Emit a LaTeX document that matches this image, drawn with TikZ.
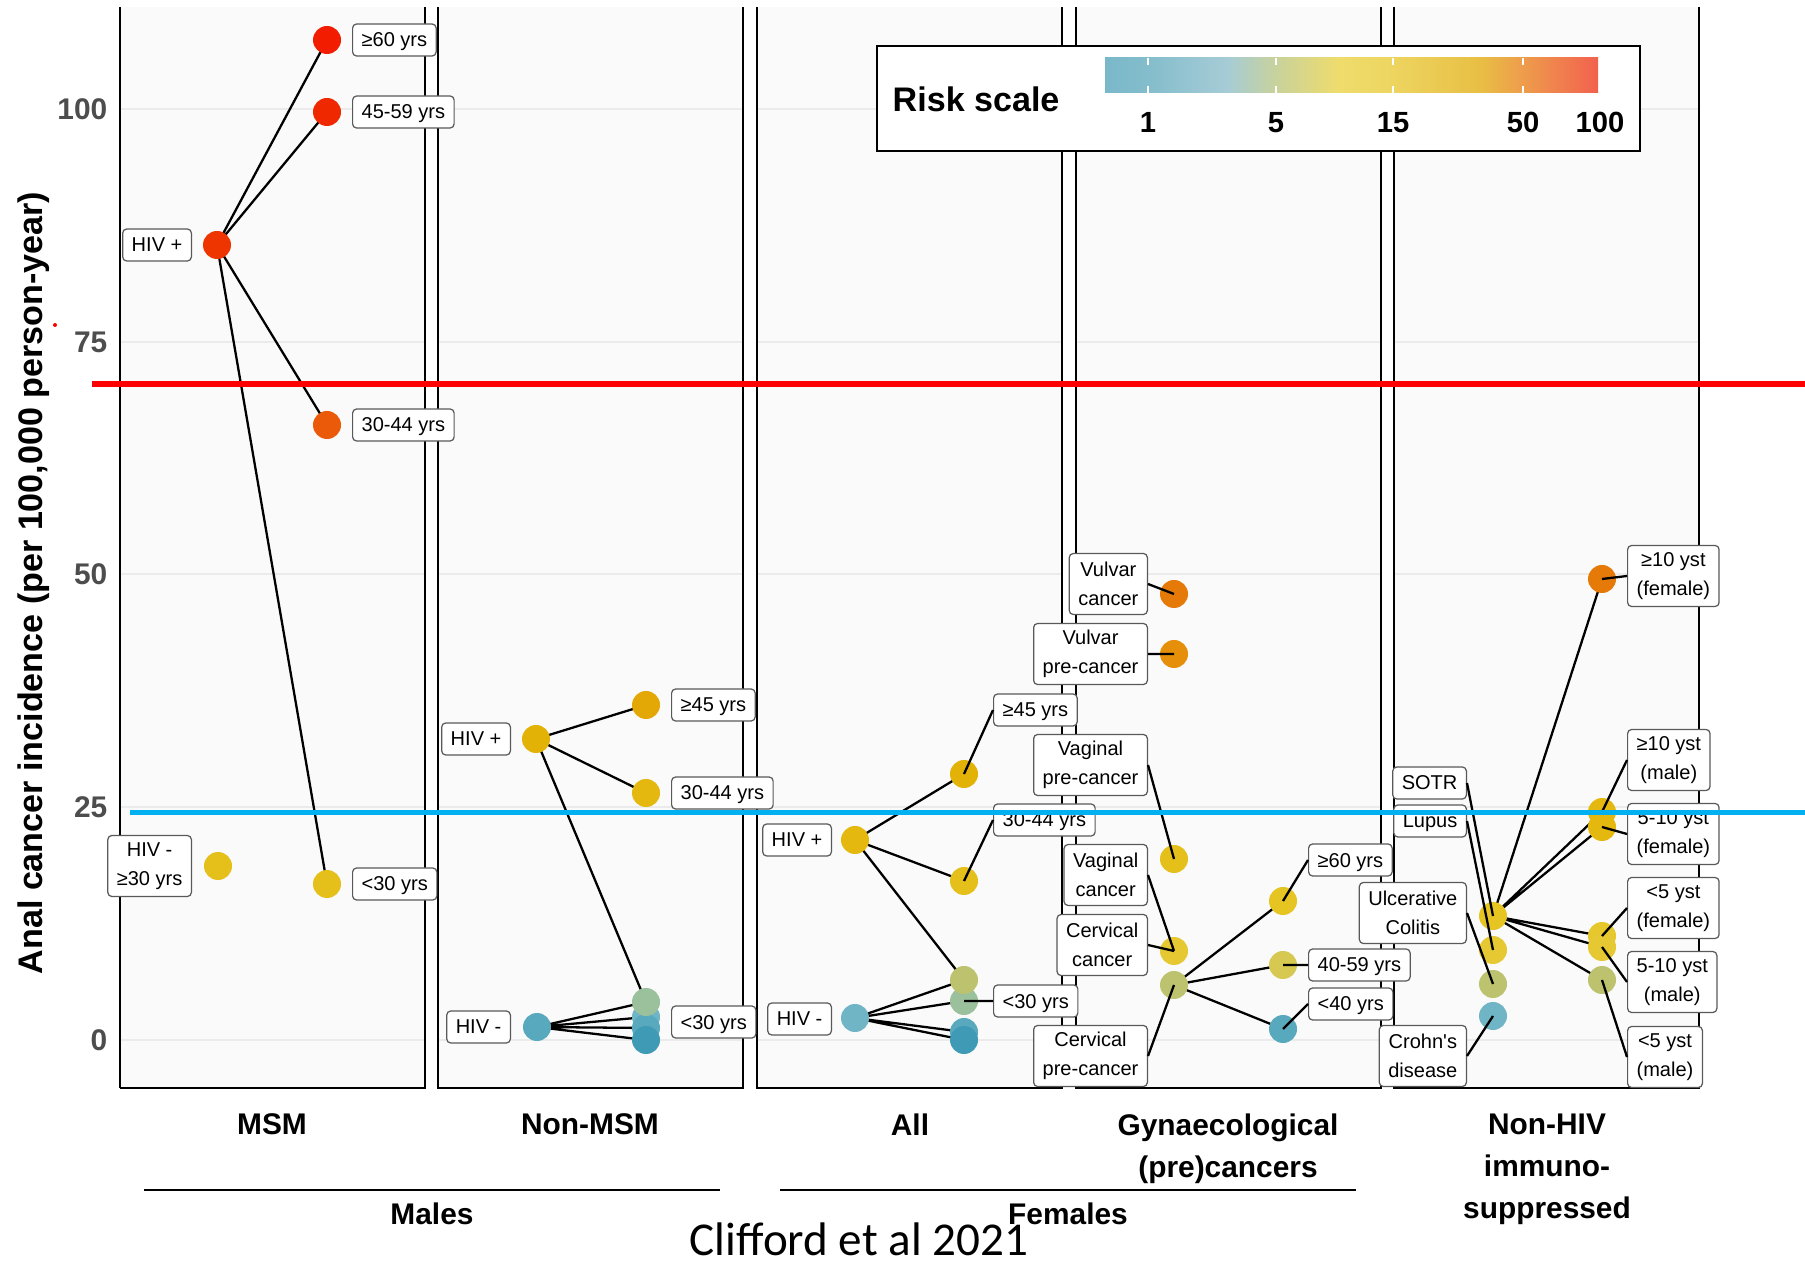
\documentclass[tikz,border=0pt]{standalone}
\usepackage{fontspec}
\setmainfont{Liberation Sans}
\newfontfamily\citefont{Carlito}
\usetikzlibrary{backgrounds}

% plot colours
\definecolor{panelbg}{HTML}{FAFAFA}
\definecolor{gridln}{HTML}{EBEBEB}
\definecolor{ticktxt}{HTML}{4D4D4D}
\definecolor{lineRed}{HTML}{FF0000}
\definecolor{lineBlue}{HTML}{00B0F0}
% risk colours
\definecolor{r107}{HTML}{F21C00}
\definecolor{r100}{HTML}{F02800}
\definecolor{r85}{HTML}{EE3500}
\definecolor{r66}{HTML}{EA5A08}
\definecolor{r49}{HTML}{E57A08}
\definecolor{r41}{HTML}{E58F0A}
\definecolor{r35}{HTML}{E3A806}
\definecolor{r30}{HTML}{E3B206}
\definecolor{r25}{HTML}{E4B80E}
\definecolor{r19}{HTML}{E5BF1A}
\definecolor{r15}{HTML}{E6C422}
\definecolor{r11}{HTML}{E6C72C}
\definecolor{r10}{HTML}{E6C932}
\definecolor{r8}{HTML}{D6C850}
\definecolor{r6}{HTML}{BCC26E}
\definecolor{r4}{HTML}{9BC09C}
\definecolor{r2}{HTML}{70B5C5}
\definecolor{r1}{HTML}{58A9BD}
\definecolor{r0}{HTML}{3F9BB5}
% legend bar
\definecolor{lgA}{HTML}{7AB8C9}
\definecolor{lgB}{HTML}{84BDCC}
\definecolor{lgC}{HTML}{A6CCD6}
\definecolor{lgD}{HTML}{C8D29C}
\definecolor{lgE}{HTML}{EFDC6C}
\definecolor{lgF}{HTML}{EDD560}
\definecolor{lgG}{HTML}{E8BF44}
\definecolor{lgH}{HTML}{EE9C4C}
\definecolor{lgI}{HTML}{F2614E}
\pgfdeclarehorizontalshading{riskbar}{100bp}{color(0bp)=(lgA); color(25bp)=(lgA);
  color(29.4bp)=(lgB); color(37.4bp)=(lgC); color(42.3bp)=(lgD); color(48.8bp)=(lgE);
  color(54.2bp)=(lgF); color(63bp)=(lgG); color(67.4bp)=(lgH); color(75bp)=(lgI); color(100bp)=(lgI)}

\tikzset{
  pnt/.style={circle, inner sep=0pt, minimum size=2.8mm},
  link/.style={line width=0.65pt},
  lblbase/.style={draw=black!65, line width=0.35pt, fill=white, rounded corners=0.4mm,
    inner xsep=0.9mm, font=\fontsize{5.7}{8.4}\selectfont},
  lbl/.style={lblbase, inner ysep=0.65mm, text height=1.65mm, text depth=0.25mm},
  lbltwo/.style={lblbase, align=center, inner ysep=0.6mm, minimum height=6.1mm},
  ticklbl/.style={font=\bfseries\fontsize{8.5}{10}\selectfont, text=ticktxt, inner sep=0pt},
  strip/.style={font=\bfseries\fontsize{8.5}{11.95}\selectfont, align=center, inner sep=0pt},
}

\begin{document}
\begin{tikzpicture}[x=0.1mm, y=-0.1mm]
	\useasboundingbox (0,0) rectangle (1805,1264);

	% panels
	\begin{scope}[on background layer]
		\fill[panelbg] (120,7) rectangle (425,1088);
		\fill[panelbg] (438,7) rectangle (743,1088);
		\fill[panelbg] (757,7) rectangle (1062,1088);
		\fill[panelbg] (1076,7) rectangle (1381,1088);
		\fill[panelbg] (1394,7) rectangle (1699,1088);
		\draw[gridln, line width=0.75pt] (120,109) -- (425,109) (120,342) -- (425,342) (120,574) -- (425,574) (120,807) -- (425,807) (120,1040) -- (425,1040);
		\draw[gridln, line width=0.75pt] (438,109) -- (743,109) (438,342) -- (743,342) (438,574) -- (743,574) (438,807) -- (743,807) (438,1040) -- (743,1040);
		\draw[gridln, line width=0.75pt] (757,109) -- (1062,109) (757,342) -- (1062,342) (757,574) -- (1062,574) (757,807) -- (1062,807) (757,1040) -- (1062,1040);
		\draw[gridln, line width=0.75pt] (1076,109) -- (1381,109) (1076,342) -- (1381,342) (1076,574) -- (1381,574) (1076,807) -- (1381,807) (1076,1040) -- (1381,1040);
		\draw[gridln, line width=0.75pt] (1394,109) -- (1699,109) (1394,342) -- (1699,342) (1394,574) -- (1699,574) (1394,807) -- (1699,807) (1394,1040) -- (1699,1040);
		\draw[line width=0.4pt] (120,7) -- (120,1088);
		\draw[line width=0.65pt] (120,1088) -- (425,1088) -- (425,7);
		\draw[line width=0.65pt] (438,7) -- (438,1088) -- (743,1088) -- (743,7);
		\draw[line width=0.65pt] (757,7) -- (757,1088) -- (1062,1088) -- (1062,7);
		\draw[line width=0.65pt] (1076,7) -- (1076,1088) -- (1381,1088) -- (1381,7);
		\draw[line width=0.65pt] (1394,7) -- (1394,1088) -- (1699,1088) -- (1699,7);
	\end{scope}

	% axis
	\node[ticklbl, anchor=east] (t100) at (108,109) {100};
	\node[ticklbl, anchor=east] (t75) at (108,342) {75};
	\node[ticklbl, anchor=east] (t50) at (108,574) {50};
	\node[ticklbl, anchor=east] (t25) at (108,807) {25};
	\node[ticklbl, anchor=east] (t0) at (108,1040) {0};
	\node[font=\bfseries\fontsize{9.7}{11}\selectfont, rotate=90, anchor=base, inner sep=0pt] (ytitle) at (43,583) {Anal cancer incidence (per 100,000 person-year)};
	\fill[lineRed] (55,325) circle (0.2mm);

	% legend
	\draw[line width=0.35pt, fill=white] (877,46) rectangle (1640,151);
	\shade[shading=riskbar] (1105,58) rectangle (1598,93);
	\draw[white, line width=0.4pt] (1148,58) -- (1148,65) (1148,86) -- (1148,93)
		(1276,58) -- (1276,65) (1276,86) -- (1276,93)
		(1393,58) -- (1393,65) (1393,86) -- (1393,93)
		(1523,58) -- (1523,65) (1523,86) -- (1523,93);
	\node[font=\bfseries\fontsize{9.7}{11}\selectfont, anchor=base west, inner sep=0pt] (rkTitle) at (892,112) {Risk scale};
	\node[font=\bfseries\fontsize{8.3}{10}\selectfont, anchor=base, inner sep=0pt] (rk1) at (1148,133) {1};
	\node[font=\bfseries\fontsize{8.3}{10}\selectfont, anchor=base, inner sep=0pt] (rk5) at (1276,133) {5};
	\node[font=\bfseries\fontsize{8.3}{10}\selectfont, anchor=base, inner sep=0pt] (rk15) at (1393,133) {15};
	\node[font=\bfseries\fontsize{8.3}{10}\selectfont, anchor=base, inner sep=0pt] (rk50) at (1523,133) {50};
	\node[font=\bfseries\fontsize{8.3}{10}\selectfont, anchor=base, inner sep=0pt] (rk100) at (1600,133) {100};

	% MSM
	\node[pnt, fill=r85] (msmHp) at (217,245) {};
	\node[pnt, fill=r107] (msm60) at (327,40) {};
	\node[pnt, fill=r100] (msm45) at (327,112) {};
	\node[pnt, fill=r66] (msm30) at (327,425) {};
	\node[pnt, fill=r19] (msmU30) at (327,884) {};
	\node[pnt, fill=r19] (msmHn) at (218,866) {};
	\node[lbl, anchor=west] (lM60) at (352,40) {≥60 yrs};
	\node[lbl, anchor=west] (lM45) at (352,112) {45-59 yrs};
	\node[lbl, anchor=east] (lMHp) at (192,245) {HIV +};
	\node[lbl, anchor=west] (lM30) at (352,425) {30-44 yrs};
	\node[lbltwo, anchor=east] (lMHn) at (192,866) {HIV -\\≥30 yrs};
	\node[lbl, anchor=west] (lMU30) at (352,884) {<30 yrs};

	% Non-MSM
	\node[pnt, fill=r30] (nonHp) at (536,739) {};
	\node[pnt, fill=r35] (non45) at (646,705) {};
	\node[pnt, fill=r25] (non30) at (646,793) {};
	\node[pnt, fill=r1] (nonHn) at (537,1027) {};
	\node[pnt, fill=r2] (nonU2) at (646,1017) {};
	\node[pnt, fill=r1] (nonU3) at (646,1028) {};
	\node[pnt, fill=r0] (nonU4) at (646,1040) {};
	\node[pnt, fill=r4] (nonU1) at (646,1002) {};
	\node[lbl, anchor=east] (lNHp) at (511,739) {HIV +};
	\node[lbl, anchor=west] (lN45) at (671,705) {≥45 yrs};
	\node[lbl, anchor=west] (lN30) at (671,793) {30-44 yrs};
	\node[lbl, anchor=east] (lNHn) at (511,1027) {HIV -};
	\node[lbl, anchor=west] (lNU30) at (671,1022) {<30 yrs};

	% All
	\node[pnt, fill=r25] (allHp) at (855,840) {};
	\node[pnt, fill=r30] (all45) at (964,774) {};
	\node[pnt, fill=r19] (all30) at (964,881) {};
	\node[pnt, fill=r2] (allHn) at (855,1018) {};
	\node[pnt, fill=r4] (allU2) at (964,1001) {};
	\node[pnt, fill=r6] (allU1) at (964,980) {};
	\node[pnt, fill=r1] (allU3) at (964,1032) {};
	\node[pnt, fill=r0] (allU4) at (964,1040) {};
	\node[lbl, anchor=east] (lAHp) at (832,840) {HIV +};
	\node[lbl, anchor=west] (lA45) at (993,710) {≥45 yrs};
	\node[lbl, anchor=west] (lA30) at (993,820) {30-44 yrs};
	\node[lbl, anchor=west] (lAU30) at (993,1001) {<30 yrs};
	\node[lbl, anchor=east] (lAHn) at (832,1019) {HIV -};
	\draw[link] (all45.center) -- (lA45.west) (all30.center) -- (lA30.west) (allU2.center) -- (lAU30.west);

	% Gynaecological
	\node[pnt, fill=r49] (gVc) at (1174,594) {};
	\node[pnt, fill=r41] (gVp) at (1174,654) {};
	\node[pnt, fill=r19] (gGp) at (1174,859) {};
	\node[pnt, fill=r10] (gCc) at (1174,951) {};
	\node[pnt, fill=r6] (gCp) at (1174,985) {};
	\node[pnt, fill=r15] (g60) at (1283,901) {};
	\node[pnt, fill=r8] (g40) at (1283,965) {};
	\node[pnt, fill=r1] (gU40) at (1283,1029) {};
	\node[lbltwo, anchor=east] (lVc) at (1148,584) {Vulvar\\cancer};
	\node[lbltwo, anchor=east] (lVp) at (1148,654) {Vulvar\\pre-cancer};
	\node[lbltwo, anchor=east] (lGp) at (1148,765) {Vaginal\\pre-cancer};
	\node[lbltwo, anchor=east] (lGc) at (1148,875) {Vaginal\\cancer};
	\node[lbltwo, anchor=east] (lCc) at (1148,945) {Cervical\\cancer};
	\node[lbltwo, anchor=east] (lCp) at (1148,1056) {Cervical\\pre-cancer};
	\node[lbl, anchor=west] (lG60) at (1308,860) {≥60 yrs};
	\node[lbl, anchor=west] (lG40) at (1308,965) {40-59 yrs};
	\node[lbl, anchor=west] (lGU40) at (1308,1004) {<40 yrs};
	\draw[link] (lVc.east) -- (gVc.center) (lVp.east) -- (gVp.center) (lGp.east) -- (gGp.center)
		(lGc.east) -- (gCc.center) (lCc.east) -- (gCc.center) (lCp.east) -- (gCp.center)
		(lG60.west) -- (g60.center) (lG40.west) -- (g40.center) (lGU40.west) -- (gU40.center);

	% Non-HIV immunosuppressed
	\node[pnt, fill=r15] (iSot) at (1493,916) {};
	\node[pnt, fill=r10] (iLup) at (1493,950) {};
	\node[pnt, fill=r6] (iUc) at (1493,984) {};
	\node[pnt, fill=r2] (iCr) at (1493,1016) {};
	\node[pnt, fill=r49] (iF10) at (1602,579) {};
	\node[pnt, fill=r25] (iM10) at (1602,812) {};
	\node[pnt, fill=r25] (iF5) at (1602,827) {};
	\node[pnt, fill=r11] (iFu5) at (1602,936) {};
	\node[pnt, fill=r10] (iM5) at (1602,947) {};
	\node[pnt, fill=r6] (iMu5) at (1602,980) {};
	\node[lbl, anchor=east] (lSot) at (1467,783) {SOTR};
	\node[lbl, anchor=east] (lLup) at (1467,821) {Lupus};
	\node[lbltwo, anchor=east] (lUc) at (1467,913) {Ulcerative\\Colitis};
	\node[lbltwo, anchor=east] (lCr) at (1467,1056) {Crohn\textquotesingle s\\disease};
	\node[lbltwo, anchor=west] (lF10) at (1627,576) {≥10 yst\\(female)};
	\node[lbltwo, anchor=west] (lM10) at (1627,760) {≥10 yst\\(male)};
	\node[lbltwo, anchor=west] (lF5) at (1627,834) {5-10 yst\\(female)};
	\node[lbltwo, anchor=west] (lFu5) at (1627,908) {<5 yst\\(female)};
	\node[lbltwo, anchor=west] (lM5) at (1627,982) {5-10 yst\\(male)};
	\node[lbltwo, anchor=west] (lMu5) at (1627,1057) {<5 yst\\(male)};
	\draw[link] (lSot.east) -- (iSot.center) (lLup.east) -- (iLup.center) (lUc.east) -- (iUc.center) (lCr.east) -- (iCr.center)
		(lF10.west) -- (iF10.center) (lM10.west) -- (iM10.center) (lF5.west) -- (iF5.center)
		(lFu5.west) -- (iFu5.center) (lM5.west) -- (iM5.center) (lMu5.west) -- (iMu5.center);

	% lines between groups
	\begin{scope}[on background layer]
		\draw[link] (msmHp.center) -- (msm60.center) (msmHp.center) -- (msm45.center) (msmHp.center) -- (msm30.center) (msmHp.center) -- (msmU30.center);
		\draw[link] (nonHp.center) -- (non45.center) (nonHp.center) -- (non30.center) (nonHp.center) -- (nonU1.center)
			(nonHn.center) -- (nonU1.center) (nonHn.center) -- (nonU2.center) (nonHn.center) -- (nonU3.center) (nonHn.center) -- (nonU4.center);
		\draw[link] (allHp.center) -- (all45.center) (allHp.center) -- (all30.center) (allHp.center) -- (allU1.center)
			(allHn.center) -- (allU1.center) (allHn.center) -- (allU2.center) (allHn.center) -- (allU3.center) (allHn.center) -- (allU4.center);
		\draw[link] (gCp.center) -- (g60.center) (gCp.center) -- (g40.center) (gCp.center) -- (gU40.center);
		\draw[link] (iSot.center) -- (iF10.center) (iSot.center) -- (iM10.center) (iSot.center) -- (iF5.center)
			(iSot.center) -- (iFu5.center) (iSot.center) -- (iM5.center) (iSot.center) -- (iMu5.center);
	\end{scope}

	% facet labels
	\node[strip, anchor=north] (sMsm) at (272,1113) {MSM};
	\node[strip, anchor=north] (sNon) at (590,1113) {Non-MSM};
	\node[strip, anchor=north] (sAll) at (910,1113) {All};
	\node[strip, anchor=north] (sGyn) at (1228,1113) {Gynaecological\\(pre)cancers};
	\node[strip, anchor=north] (sImm) at (1547,1113) {Non-HIV\\immuno-\\suppressed};
	\draw[line width=0.8pt] (144,1190) -- (720,1190);
	\draw[line width=0.8pt] (780,1190) -- (1356,1190);
	\node[strip, anchor=base] (gMale) at (432,1224) {Males};
	\node[strip, anchor=base] (gFemale) at (1068,1224) {Females};
	\node[font=\citefont\fontsize{13.4}{16}\selectfont, anchor=base, inner sep=0pt] (cite) at (859,1255) {Clifford et al 2021};

	% reference lines
	\draw[lineRed, line width=1.7pt] (92,384) -- (1805,384);
	\draw[lineBlue, line width=1.7pt] (130,812.5) -- (1805,812.5);
\end{tikzpicture}
\end{document}
